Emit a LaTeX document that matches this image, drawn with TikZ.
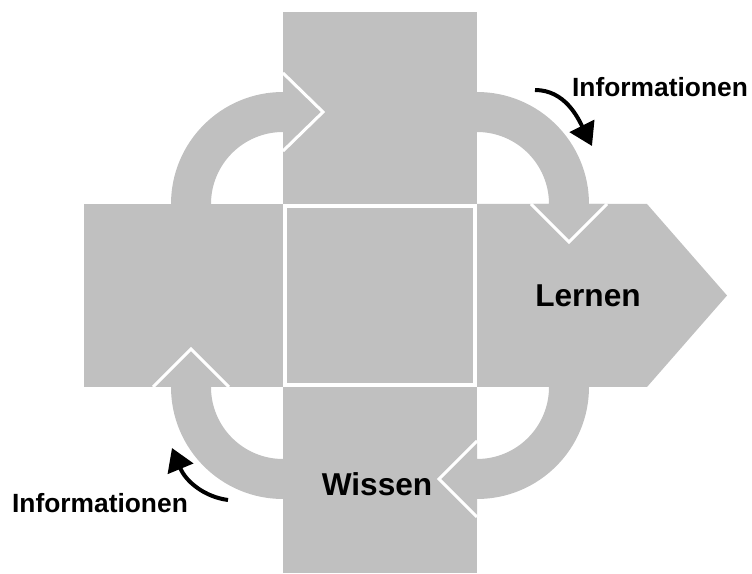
\documentclass[tikz,border=0pt]{standalone}
\usepackage{fontspec}
\setmainfont{Liberation Sans}
\usepackage{tikz}
\usetikzlibrary{arrows.meta}
\definecolor{blockgrey}{RGB}{192,192,192}

\begin{document}
\begin{tikzpicture}[%
                    x=0.02cm, y=-0.02cm,%
                    block/.style={fill=blockgrey},%
                    cut/.style={draw=white, line width=0.06cm},%
                    textlabel/.style={font=\bfseries\fontsize{18}{20}\selectfont},%
                    infolabel/.style={font=\bfseries\fontsize{15}{17}\selectfont},%
                    infoarrow/.style={line width=0.08cm, -{Triangle[length=0.45cm,width=0.54cm]}},%
                    ]%
                    \useasboundingbox (0,0) rectangle (752,574);%
                    \fill [block] (84,204) rectangle (283,387);%
                    \fill [block] (283,12) rectangle (477,204);%
                    \fill [block] (283,387) rectangle (477,573);%
                    \fill [block] (477,204) -- (647,204) -- (727,295.5) -- (647,387) -- (477,387) -- cycle;%
                    \filldraw [block, draw=white, line width=0.08cm] (285,206) rectangle (475,385);%
                    \fill [block] (171,204) arc [start angle=180, end angle=270, radius=112] -- (283,73) -- (323,112) -- (283,151) -- (283,132) arc [start angle=270, end angle=180, radius=72] -- cycle;%
                    \draw [cut] (283,73) -- (323,112) -- (283,151);%
                    \fill [block] (477,92) arc [start angle=270, end angle=360, radius=112] -- (607,204) -- (569,242) -- (531,204) -- (549,204) arc [start angle=0, end angle=-90, radius=72] -- cycle;%
                    \draw [cut] (607,204) -- (569,242) -- (531,204);%
                    \fill [block] (589,387) arc [start angle=0, end angle=90, radius=112] -- (477,517) -- (439,479) -- (477,441) -- (477,459) arc [start angle=90, end angle=0, radius=72] -- cycle;%
                    \draw [cut] (477,517) -- (439,479) -- (477,441);%
                    \fill [block] (283,499) arc [start angle=90, end angle=180, radius=112] -- (153,387) -- (191,349) -- (229,387) -- (211,387) arc [start angle=180, end angle=90, radius=72] -- cycle;%
                    \draw [cut] (153,387) -- (191,349) -- (229,387);%
                    \node [textlabel] (lernen) at (588,296) {Lernen};%
                    \node [textlabel] (wissen) at (377,484) {Wissen};%
                    \node [infolabel] (infotop) at (660,87) {Informationen};%
                    \node [infolabel] (infobottom) at (100,503) {Informationen};%
                    \coordinate (topstart) at (535,90);%
                    \coordinate (toptip) at (592,146);%
                    \draw [infoarrow] (topstart) .. controls (565,90) and (578,118) .. (toptip);%
                    \coordinate (bottomstart) at (228,500);%
                    \coordinate (bottomtip) at (172,448);%
                    \draw [infoarrow] (bottomstart) .. controls (205,497) and (186,482) .. (bottomtip);%
                    \end{tikzpicture}
\end{document}
